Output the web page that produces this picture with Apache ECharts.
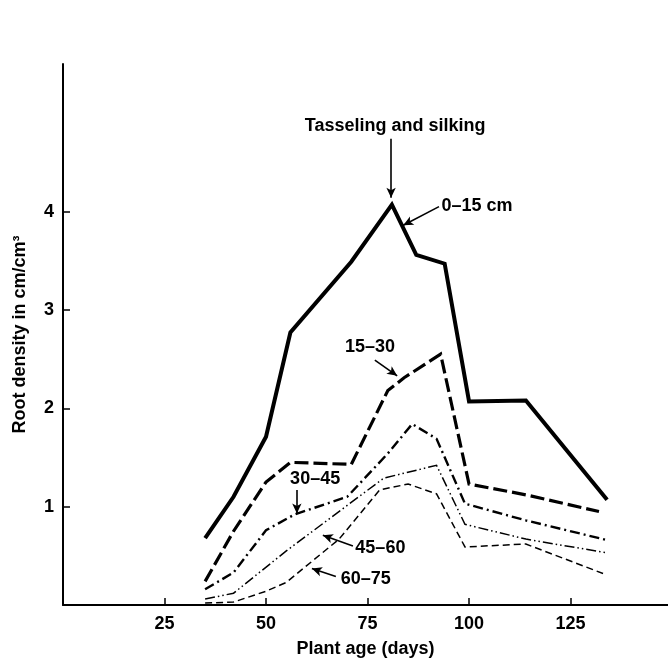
<!DOCTYPE html>
<html>
<head>
<meta charset="utf-8">
<script src="https://cdn.jsdelivr.net/npm/echarts@6/dist/echarts.min.js"></script>
<style>
html,body{margin:0;padding:0;background:#fff;}
#chart{width:668px;height:663px;}
</style>
</head>
<body>
<div id="chart"></div>
<script>
// ---- data ----
const xTicks = [25, 50, 75, 100, 125];
const yTicks = [1, 2, 3, 4];

const days0to15  = [35, 42, 50, 56, 71, 81, 87, 94, 100, 114, 134];
const root0to15  = [0.68, 1.10, 1.71, 2.77, 3.49, 4.07, 3.56, 3.47, 2.07, 2.08, 1.07];

const days15to30 = [35, 42, 50, 56, 71, 80, 84, 93, 100, 114, 132];
const root15to30 = [0.24, 0.75, 1.25, 1.45, 1.43, 2.18, 2.31, 2.55, 1.23, 1.12, 0.95];

const days30to45 = [35, 42, 50, 57, 70, 80, 86, 92, 99, 114, 134];
const root30to45 = [0.16, 0.33, 0.76, 0.92, 1.10, 1.54, 1.84, 1.69, 1.03, 0.86, 0.66];

const days45to60 = [35, 42, 55, 79, 86, 92, 99, 114, 134];
const root45to60 = [0.06, 0.12, 0.55, 1.29, 1.36, 1.42, 0.82, 0.67, 0.53];

const days60to75 = [35, 42, 50, 55, 68, 78, 85, 92, 99, 114, 133];
const root60to75 = [0.02, 0.03, 0.14, 0.23, 0.67, 1.17, 1.23, 1.13, 0.59, 0.62, 0.32];

const seriesNames = ['0–15 cm', '15–30', '30–45', '45–60', '60–75'];

// annotation texts (placed in data coordinates)
const annotationTexts = ['Tasseling and silking', '0–15 cm', '15–30', '30–45', '45–60', '60–75'];

// ---- layout / styling ----
const FONT = "'Liberation Sans', Arial, Helvetica, sans-serif";
const annotationPlacement = [
  { at: [81.8, 4.87], align: 'center' },
  { at: [93.2, 4.06], align: 'left' },
  { at: [75.6, 2.62], align: 'center' },
  { at: [62.1, 1.28], align: 'center' },
  { at: [72.0, 0.58], align: 'left' },
  { at: [68.4, 0.26], align: 'left' }
];
const arrows = [
  [[80.8, 4.74], [80.8, 4.14]],
  [[92.6, 4.05], [83.8, 3.86]],
  [[76.8, 2.49], [82.3, 2.33]],
  [[57.6, 1.17], [57.6, 0.93]],
  [[71.4, 0.60], [64.0, 0.71]],
  [[67.2, 0.29], [61.3, 0.37]]
];

function zip(xs, ys) { return xs.map((x, i) => [x, ys[i]]); }

const styles = [
  { width: 4,   type: 'solid' },
  { width: 3.2, type: [14, 5] },
  { width: 2.4, type: [10, 4, 2, 4] },
  { width: 1.5, type: [10, 3, 1.5, 3, 1.5, 3] },
  { width: 1.5, type: [7, 4] }
];
const dataSets = [
  zip(days0to15, root0to15),
  zip(days15to30, root15to30),
  zip(days30to45, root30to45),
  zip(days45to60, root45to60),
  zip(days60to75, root60to75)
];

const series = dataSets.map((d, i) => ({
  name: seriesNames[i],
  type: 'line',
  data: d,
  symbol: 'none',
  silent: true,
  lineStyle: { color: '#000', width: styles[i].width, type: styles[i].type, join: 'miter', cap: 'butt' },
  z: 5 - i
}));

series[0].markLine = {
  silent: true,
  symbol: ['none', 'arrow'],
  symbolSize: [7, 10],
  label: { show: false },
  lineStyle: { color: '#000', width: 1.6, type: 'solid' },
  data: arrows.map(a => [{ coord: a[0] }, { coord: a[1] }])
};

const axisText = { color: '#000', fontFamily: FONT, fontWeight: 'bold', fontSize: 18 };

const chart = echarts.init(document.getElementById('chart'), null, { renderer: 'canvas' });
chart.setOption({
  animation: false,
  backgroundColor: '#fff',
  grid: { left: 63, right: 0, top: 64, bottom: 54 },
  xAxis: {
    type: 'value', min: 0, max: 149, interval: 25,
    name: 'Plant age (days)', nameLocation: 'middle', nameGap: 35,
    nameTextStyle: axisText,
    axisLine: { show: true, lineStyle: { color: '#000', width: 2 } },
    axisTick: { show: true, inside: true, length: 7, customValues: xTicks, lineStyle: { color: '#000', width: 1.5 } },
    axisLabel: { customValues: xTicks, margin: 10, ...axisText },
    splitLine: { show: false }
  },
  yAxis: {
    type: 'value', min: 0, max: 5.5, interval: 1,
    name: 'Root density in cm/cm³', nameLocation: 'middle', nameGap: 34,
    nameTextStyle: axisText,
    axisLine: { show: true, lineStyle: { color: '#000', width: 2 } },
    axisTick: { show: true, inside: true, length: 7, customValues: yTicks, lineStyle: { color: '#000', width: 1.5 } },
    axisLabel: { customValues: yTicks, margin: 9, ...axisText },
    splitLine: { show: false }
  },
  series: series
});

const graphics = annotationTexts.map((t, i) => {
  const p = chart.convertToPixel({ gridIndex: 0 }, annotationPlacement[i].at);
  return {
    type: 'text', x: p[0], y: p[1], silent: true,
    style: { text: t, fill: '#000', font: 'bold 18px ' + FONT, textAlign: annotationPlacement[i].align, textVerticalAlign: 'middle' }
  };
});
chart.setOption({ graphic: graphics });
</script>
</body>
</html>
